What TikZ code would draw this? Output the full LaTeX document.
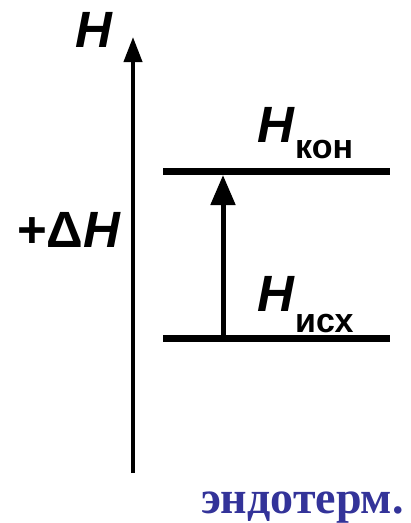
\documentclass[tikz,border=0pt]{standalone}
\usepackage{fontspec}
\setmainfont{Liberation Sans}
\newfontfamily\serifb{Liberation Serif}
\usetikzlibrary{arrows.meta}
\definecolor{endo}{RGB}{51,51,153}
\begin{document}
\begin{tikzpicture}[x=1pt,y=-1pt]
\useasboundingbox (0,0) rectangle (411,523);
\tikzset{
  lvl/.style={line width=7pt},
  axisline/.style={line width=4pt,-{Triangle[length=25pt,width=18pt]}},
  dhline/.style={line width=5pt,-{Triangle[length=30pt,width=24pt]}},
  lbl/.style={font=\fontsize{51}{51}\selectfont\bfseries, inner sep=0pt, anchor=base west},
  sub/.style={font=\fontsize{34}{34}\selectfont\bfseries, inner sep=0pt, anchor=base west}
}
% axis
\coordinate (a0) at (133,473);
\coordinate (a1) at (133,37);
\draw[axisline] (a0) -- (a1);
% levels
\coordinate (u0) at (163,171.5);
\coordinate (u1) at (390,171.5);
\coordinate (l0) at (163,338);
\coordinate (l1) at (390,338);
\draw[lvl] (u0) -- (u1);
\draw[lvl] (l0) -- (l1);
% enthalpy change arrow
\coordinate (s) at (223,338);
\coordinate (t) at (223,175);
\draw[dhline] (s) -- (t);
% labels
\node[lbl] (hax) at (75,47) {\itshape H};
\node[lbl] (dh) at (17,247) {+Δ\itshape H};
\node[lbl] (hk) at (257,142) {\itshape H};
\node[sub] (hks) at (295,158) {кон};
\node[lbl] (hi) at (257,311) {\itshape H};
\node[sub] (his) at (295,332) {исх};
\node[inner sep=0pt, anchor=base east, text=endo, font=\serifb\fontsize{46}{46}\selectfont\bfseries] (endo) at (404,513) {эндотерм.};
\end{tikzpicture}
\end{document}
